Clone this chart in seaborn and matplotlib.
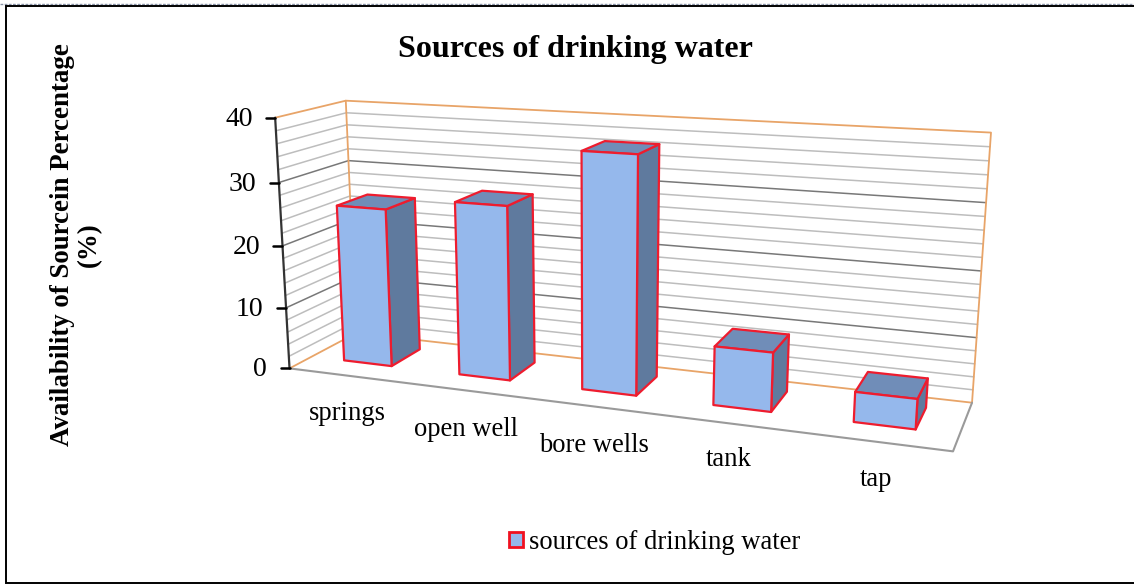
import numpy as np
import seaborn as sns
import matplotlib
matplotlib.use("Agg")
import matplotlib.pyplot as plt
from matplotlib.patches import Patch, Polygon

sources = ["springs", "open well", "bore wells", "tank", "tap"]
percent = [25.5, 27.5, 36.5, 9, 4.5]
value_ticks = [0, 10, 20, 30, 40]
legend_label = "sources of drinking water"
title = "Sources of drinking water"
ylabel = "Availability of Sourcein Percentage\n(%)"

sns.set_theme(style="white")
plt.rcParams["font.family"] = ["Liberation Serif", "DejaVu Serif"]

FRONT = "#95B8EC"
SIDE = "#5F7A9E"
TOP = "#708DB8"
EDGE = "#EE1C2E"
ORANGE = "#E8A468"
GREY = "#9A9A9A"
GRID = "#BDBDBD"
GRID_DARK = "#787878"

# box corners (x 0-1, value 0-1, depth 0-1) -> picture pixels, for the projection
calib = [
    ((0, 0, 0), (291, 367)), ((1, 0, 0), (953, 453)), ((0, 1, 0), (273, 118)),
    ((0, 1, 1), (348, 100)), ((1, 1, 1), (991, 134)), ((1, 0, 1), (972, 402)),
    ((0, 0, 1), (354, 335)), ((0, .75, 0), (278, 183)), ((0, .5, 0), (283, 246)),
    ((0, .25, 0), (287, 307)), ((1, .75, 1), (986, 202)), ((1, .5, 1), (981, 270)),
    ((1, .25, 1), (977, 337)),
]
rows, rhs = [], []
for (X, Y, Z), (px, py) in calib:
    rows.append([X, Y, Z, 1, 0, 0, 0, 0, -px * X, -px * Y, -px * Z])
    rows.append([0, 0, 0, 0, X, Y, Z, 1, -py * X, -py * Y, -py * Z])
    rhs += [px, py]
P = np.append(np.linalg.lstsq(np.array(rows, float), np.array(rhs, float), rcond=None)[0], 1).reshape(3, 4)


def proj(x, v, d):
    # x in category units, v in percent, d depth
    q = P @ np.array([(x + 0.5) / len(sources), v / 40, d, 1])
    return q[0] / q[2], q[1] / q[2]


fig = plt.figure(figsize=(11.34, 5.84), dpi=100)

# flat barplot only gives the bar rectangles, they get projected below
flat = fig.add_axes([0, 0, 1, 1])
sns.barplot(x=sources, y=percent, width=0.42, ax=flat)
flat.set_xlim(-0.5, 4.5)
flat.set_ylim(0, 40)
rects = [(p.get_x(), p.get_width(), p.get_height()) for p in flat.patches]
flat.set_visible(False)

ax = fig.add_axes([0, 0, 1, 1])
ax.set_xlim(0, 1134)
ax.set_ylim(584, 0)
ax.axis("off")

# page frame, open on the right
ax.plot([0, 1134], [3.5, 3.5], color="#8a94a8", lw=1, ls=(0, (2, 1)))
ax.plot([1134, 6, 6, 1134], [5.5, 5.5, 582.5, 582.5], color="black", lw=1.4, solid_joinstyle="miter")

xl, xr = -0.5, 4.5
# walls grid
for v in range(0, 42, 2):
    if v == 0 or v == 40:
        continue
    c = GRID_DARK if v % 10 == 0 else GRID
    ax.plot(*zip(proj(xl, v, 0), proj(xl, v, 1), proj(xr, v, 1)), color=c, lw=1.1, zorder=1)

# wall and floor outlines
ax.plot(*zip(proj(xl, 40, 0), proj(xl, 40, 1), proj(xr, 40, 1), proj(xr, 0, 1), proj(xl, 0, 1), proj(xl, 0, 0)),
        color=ORANGE, lw=1.3, zorder=1)
ax.plot(*zip(proj(xl, 40, 1), proj(xl, 0, 1)), color=ORANGE, lw=1.3, zorder=1)
ax.plot(*zip(proj(xl, 0, 0), proj(xr, 0, 0), proj(xr, 0, 1)), color=GREY, lw=1.5, zorder=1)

# value axis
ax.plot(*zip(proj(xl, 0, 0), proj(xl, 40, 0)), color="#333333", lw=1.6, zorder=1)
for v in value_ticks:
    x0, y0 = proj(xl, v, 0)
    ax.plot([x0 - 9, x0], [y0, y0], color="black", lw=1.8, zorder=1)
    ax.text(x0 - 22.5, y0 + 1.5, str(v), ha="right", va="center", fontsize=20, color="black")

# bars
d0, d1 = 0.32, 0.78
for (x, w, h) in rects:
    a, b = x, x + w
    side = [proj(b, 0, d0), proj(b, 0, d1), proj(b, h, d1), proj(b, h, d0)]
    top = [proj(a, h, d0), proj(b, h, d0), proj(b, h, d1), proj(a, h, d1)]
    front = [proj(a, 0, d0), proj(b, 0, d0), proj(b, h, d0), proj(a, h, d0)]
    ax.add_patch(Polygon(side, fc=SIDE, ec=EDGE, lw=1.6, joinstyle="round", zorder=3))
    ax.add_patch(Polygon(top, fc=TOP, ec=EDGE, lw=1.6, joinstyle="round", zorder=3))
    ax.add_patch(Polygon(front, fc=FRONT, ec=EDGE, lw=1.6, joinstyle="round", zorder=3))

label_pos = [(347, 414), (466, 430), (594, 446), (729, 460), (876, 479)]
for name, (lx, ly) in zip(sources, label_pos):
    ax.text(lx, ly, name, ha="center", va="center", fontsize=19.2, color="black")

ax.text(575, 49, title, ha="center", va="center", fontsize=23, fontweight="bold", color="black")
ax.text(76, 245, ylabel, ha="center", va="center", rotation=90, fontsize=19.4, fontweight="bold",
        color="black", linespacing=1.1)

ax.legend(handles=[Patch(fc=FRONT, ec="#F01020", lw=2, label=legend_label)], loc="center",
          bbox_to_anchor=(655, 542.5), bbox_transform=ax.transData, frameon=False, fontsize=19.2,
          handlelength=0.5, handleheight=0.5, handletextpad=0.25, labelcolor="black")

fig.savefig("out.png", dpi=100)
